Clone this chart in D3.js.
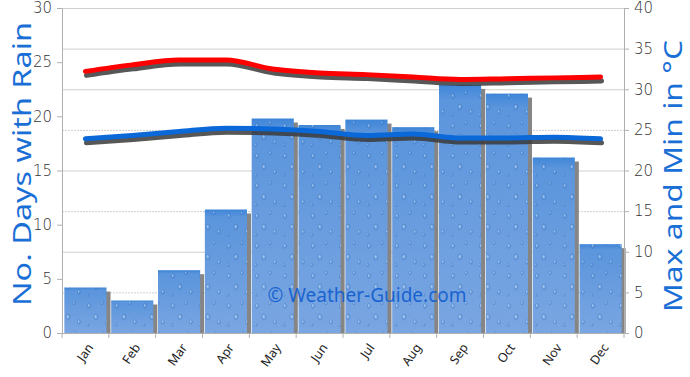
<!DOCTYPE html>
<html>
<head>
<meta charset="utf-8">
<script src="https://cdn.jsdelivr.net/npm/d3@7"></script>
<style>
  body { margin: 0; background: #fff; }
  text { font-family: "Noto Sans", sans-serif; }
</style>
</head>
<body>
<div id="chart"></div>
<script>
const months = ['Jan','Feb','Mar','Apr','May','Jun','Jul','Aug','Sep','Oct','Nov','Dec'];
const rainDays = [4.2, 3.0, 5.8, 11.4, 19.8, 19.2, 19.7, 19.0, 22.9, 22.1, 16.2, 8.2];
const maxTemp = [32.2, 33.0, 33.6, 33.6, 32.5, 32.0, 31.8, 31.5, 31.2, 31.3, 31.4, 31.5];
const minTemp = [23.9, 24.3, 24.8, 25.2, 25.1, 24.8, 24.3, 24.5, 24.0, 24.0, 24.1, 23.9];
const leftTicks = [0, 5, 10, 15, 20, 25, 30];
const rightTicks = [0, 5, 10, 15, 20, 25, 30, 35, 40];

const width = 690, height = 377;
const margin = ({top: 8, right: 66, bottom: 44, left: 62});

const svg = d3.select('#chart').append('svg')
  .attr('width', width).attr('height', height);

const defs = svg.append('defs');
const grad = defs.append('linearGradient').attr('id', 'barGrad')
  .attr('x1', 0).attr('y1', 0).attr('x2', 0).attr('y2', 1);
grad.append('stop').attr('offset', '0%').attr('stop-color', '#3f86d8');
grad.append('stop').attr('offset', '6%').attr('stop-color', '#5b95dc');
grad.append('stop').attr('offset', '100%').attr('stop-color', '#7aa6e2');

// little raindrop texture
const pat = defs.append('pattern').attr('id', 'drops')
  .attr('patternUnits', 'userSpaceOnUse').attr('width', 28).attr('height', 30);
[[5, 6, 1.6, 2.4], [18, 3, 1.2, 1.8], [12, 17, 2, 3], [23, 22, 1.4, 2.2], [4, 25, 1, 1.5]]
  .forEach(p => {
    pat.append('ellipse').attr('cx', p[0]).attr('cy', p[1]).attr('rx', p[2]).attr('ry', p[3])
      .attr('fill', 'none').attr('stroke', '#2f6cb8').attr('stroke-opacity', 0.45).attr('stroke-width', 0.8);
    pat.append('ellipse').attr('cx', p[0] - 0.4).attr('cy', p[1] - 0.6).attr('rx', p[2] * 0.5).attr('ry', p[3] * 0.5)
      .attr('fill', '#d8e8fa').attr('fill-opacity', 0.5);
  });

const x = d3.scaleBand().domain(months)
  .range([margin.left, width - margin.right]).paddingInner(0.1).paddingOuter(0.05);
const xStep = (width - margin.right - margin.left) / months.length;
const yL = d3.scaleLinear().domain([0, 30]).range([height - margin.bottom, margin.top]);
const yR = d3.scaleLinear().domain([0, 40]).range([height - margin.bottom, margin.top]);

// gridlines (right axis)
svg.append('g').selectAll('line').data(rightTicks.slice(1)).enter().append('line')
  .attr('x1', margin.left).attr('x2', width - margin.right)
  .attr('y1', d => yR(d) + 0.5).attr('y2', d => yR(d) + 0.5)
  .attr('stroke', '#cfcfcf').attr('stroke-width', 1)
  .attr('stroke-dasharray', d => d % 10 === 5 && d !== 35 ? '2,1' : null);

// bars
const bars = svg.append('g');
bars.selectAll('rect.shadow').data(rainDays).enter().append('rect')
  .attr('class', 'shadow')
  .attr('x', (d, i) => x(months[i]) + 4).attr('y', d => yL(d) + 4)
  .attr('width', x.bandwidth()).attr('height', d => yL(0) - yL(d) - 4)
  .attr('fill', '#858585');
bars.selectAll('rect.bar').data(rainDays).enter().append('rect')
  .attr('class', 'bar')
  .attr('x', (d, i) => x(months[i])).attr('y', d => yL(d))
  .attr('width', x.bandwidth()).attr('height', d => yL(0) - yL(d))
  .attr('fill', 'url(#barGrad)');
bars.selectAll('rect.tex').data(rainDays).enter().append('rect')
  .attr('class', 'tex')
  .attr('x', (d, i) => x(months[i])).attr('y', d => yL(d))
  .attr('width', x.bandwidth()).attr('height', d => yL(0) - yL(d))
  .attr('fill', 'url(#drops)');

// axes
const axisCol = '#b0b0b0';
const leftAxis = svg.append('g').attr('transform', `translate(${margin.left},0)`)
  .call(d3.axisLeft(yL).tickValues(leftTicks).tickSize(5).tickSizeOuter(0));
const rightAxis = svg.append('g').attr('transform', `translate(${width - margin.right},0)`)
  .call(d3.axisRight(yR).tickValues(rightTicks).tickSize(5).tickSizeOuter(0));
[leftAxis, rightAxis].forEach(a => {
  a.select('.domain').attr('stroke', axisCol);
  a.selectAll('.tick line').attr('stroke', axisCol);
  a.selectAll('.tick text').attr('fill', '#333').style('font-size', '15px')
    .style('font-family', '"DejaVu Sans", sans-serif').style('font-weight', 300);
});
leftAxis.selectAll('.tick text').attr('x', -10);
rightAxis.selectAll('.tick text').attr('x', 10);

// bottom axis with ticks at category boundaries
const bottom = svg.append('g');
bottom.append('line')
  .attr('x1', margin.left).attr('x2', width - margin.right)
  .attr('y1', yL(0) + 0.5).attr('y2', yL(0) + 0.5).attr('stroke', axisCol);
bottom.selectAll('line.tk').data(d3.range(months.length + 1)).enter().append('line')
  .attr('class', 'tk')
  .attr('x1', i => margin.left + i * xStep).attr('x2', i => margin.left + i * xStep)
  .attr('y1', yL(0)).attr('y2', yL(0) + 5).attr('stroke', axisCol);
bottom.selectAll('text').data(months).enter().append('text')
  .attr('transform', d => `translate(${x(d) + x.bandwidth() / 2 + 5},${yL(0) + 12}) rotate(-55)`)
  .attr('text-anchor', 'end').attr('dy', '0.35em')
  .style('font-size', '12.5px').attr('fill', '#222')
  .text(d => d);

// temperature lines
const line = (arr) => d3.line()
  .x((d, i) => x(months[i]) + x.bandwidth() / 2)
  .y(d => yR(d))
  .curve(d3.curveMonotoneX)(arr);

[[maxTemp, '#ff0000'], [minTemp, '#0a68d8']].forEach(([arr, col]) => {
  svg.append('path').attr('d', line(arr))
    .attr('transform', 'translate(1,4)')
    .attr('fill', 'none').attr('stroke', '#3a3a3a').attr('stroke-opacity', 0.85)
    .attr('stroke-width', 5).attr('stroke-linecap', 'round');
  svg.append('path').attr('d', line(arr))
    .attr('fill', 'none').attr('stroke', col)
    .attr('stroke-width', 5).attr('stroke-linecap', 'round');
});

// watermark
svg.append('text')
  .attr('x', 367).attr('y', 302).attr('text-anchor', 'middle')
  .attr('fill', '#1a64d0').style('font-size', '19px')
  .text('© Weather-Guide.com');

// axis titles
svg.append('text')
  .attr('transform', `translate(31,${(margin.top + 320) / 2}) rotate(-90)`)
  .attr('text-anchor', 'middle').attr('fill', '#1a6fd6')
  .style('font-size', '26px').attr('textLength', 284).attr('lengthAdjust', 'spacingAndGlyphs')
  .text('No. Days with Rain');
svg.append('text')
  .attr('transform', `translate(682,${(40 + 312) / 2}) rotate(-90)`)
  .attr('text-anchor', 'middle').attr('fill', '#1a6fd6')
  .style('font-size', '26px').attr('textLength', 272).attr('lengthAdjust', 'spacingAndGlyphs')
  .text('Max and Min in °C');
</script>
</body>
</html>
